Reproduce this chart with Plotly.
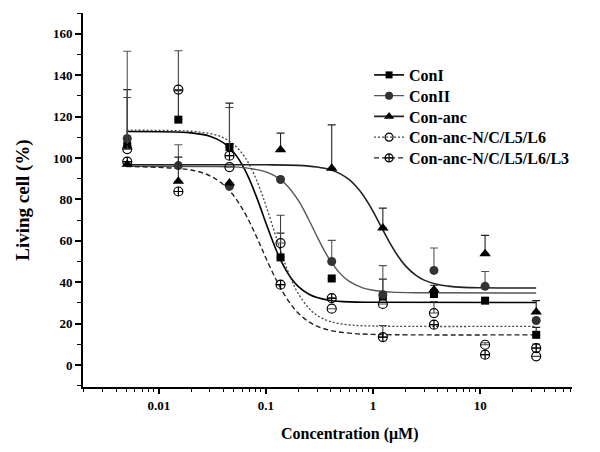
import plotly.graph_objects as go

# ---------------- data ----------------
conc = [0.00508, 0.01524, 0.0457, 0.137, 0.4115, 1.235, 3.704, 11.11, 33.33]

names = ["ConI", "ConII", "Con-anc", "Con-anc-N/C/L5/L6", "Con-anc-N/C/L5/L6/L3"]

con1 = [106.0, 118.5, 105.3, 52.0, 41.8, 33.1, 34.3, 31.1, 14.6]
con1_err = [27.0, 14.0, 21.2, 11.7, 0.0, 8.4, 0.0, 0.0, 3.6]

con2 = [109.4, 96.3, 86.3, 89.6, 50.0, 34.0, 45.7, 38.0, 21.5]
con2_err = [42.1, 10.1, 0.0, 0.0, 10.2, 14.0, 10.8, 7.2, 0.0]

anc = [97.0, 88.7, 87.9, 104.0, 95.0, 66.2, 36.4, 53.8, 25.6]
anc_err = [0.0, 11.7, 0.0, 8.0, 21.0, 9.6, 2.1, 8.8, 5.5]

l6 = [104.3, 133.0, 95.6, 58.9, 27.2, 29.5, 25.1, 9.8, 4.2]
l6_err = [24.9, 18.8, 0.0, 13.4, 0.0, 0.0, 5.6, 1.0, 0.0]

l3 = [98.2, 83.8, 101.1, 38.8, 32.3, 13.5, 19.5, 5.0, 8.2]
l3_err = [0.0, 0.0, 23.3, 0.0, 0.0, 5.6, 0.0, 0.0, 2.0]

# fitted curves, points
fit1_x = [0.005, 0.02, 0.03, 0.04, 0.05, 0.06, 0.07, 0.08, 0.09, 0.1, 0.12, 0.14,
          0.17, 0.2, 0.25, 0.3, 0.4, 0.6, 1.0, 33.3]
fit1_y = [112.8, 112.1, 110.5, 107.4, 102.8, 96.8, 89.8, 82.4, 75.3, 68.6, 57.7, 49.8,
          42.3, 38.0, 34.3, 32.6, 31.2, 30.5, 30.3, 30.2]

fit2_x = [0.005, 0.03, 0.05, 0.07, 0.1, 0.12, 0.15, 0.2, 0.25, 0.3, 0.35, 0.4, 0.5,
          0.6, 0.8, 1.0, 1.5, 3.0, 33.3]
fit2_y = [96.0, 95.9, 95.7, 95.0, 93.3, 91.5, 87.8, 79.6, 70.4, 62.1, 55.4, 50.3, 43.9,
          40.4, 37.3, 36.1, 35.2, 34.9, 34.8]

fit3_x = [0.005, 0.1, 0.2, 0.3, 0.4, 0.5, 0.6, 0.7, 0.8, 0.9, 1.0, 1.2, 1.4, 1.7, 2.0,
          2.5, 3.0, 4.0, 5.0, 7.0, 10.0, 33.3]
fit3_y = [96.7, 96.7, 96.4, 95.6, 94.3, 92.2, 89.5, 86.1, 82.4, 78.3, 74.2, 66.5, 60.0,
          52.8, 48.0, 43.4, 41.0, 38.9, 38.1, 37.5, 37.3, 37.2]

fit4_x = [0.005, 0.02, 0.03, 0.04, 0.05, 0.06, 0.07, 0.08, 0.09, 0.1, 0.12, 0.14, 0.17,
          0.2, 0.25, 0.3, 0.4, 0.6, 1.0, 33.3]
fit4_y = [113.4, 112.9, 111.8, 109.8, 106.6, 102.2, 96.8, 90.5, 83.9, 77.1, 64.4, 53.7,
          42.1, 34.6, 27.6, 24.0, 21.0, 19.4, 18.85, 18.7]

fit5_x = [0.005, 0.02, 0.03, 0.04, 0.05, 0.06, 0.07, 0.08, 0.09, 0.1, 0.12, 0.14, 0.17,
          0.2, 0.25, 0.3, 0.4, 0.6, 1.0, 33.3]
fit5_y = [95.9, 94.2, 91.4, 87.2, 81.8, 75.7, 69.3, 63.0, 57.1, 51.7, 42.9, 36.3, 29.5,
          25.1, 21.0, 18.8, 16.7, 15.4, 14.8, 14.6]

y_ticks = [0, 20, 40, 60, 80, 100, 120, 140, 160]
x_ticks = [0.01, 0.1, 1, 10]
x_ticktext = ["0.01", "0.1", "1", "10"]
x_minor = [m * 10.0 ** e for e in range(-3, 2) for m in range(2, 10)]

x_title = "Concentration (μM)"
y_title = "Living cell (%)"

# ---------------- styles ----------------
FONT = "Liberation Serif"
series = [
    (con1, con1_err, fit1_x, fit1_y, dict(symbol="square", color="black", size=8),
     dict(color="black", width=1.6, dash="solid"), "#222222"),
    (con2, con2_err, fit2_x, fit2_y, dict(symbol="circle", color="#333333", size=9),
     dict(color="#555555", width=1.4, dash="solid"), "#555555"),
    (anc, anc_err, fit3_x, fit3_y, dict(symbol="triangle-up", color="black", size=10),
     dict(color="#222222", width=1.6, dash="solid"), "#222222"),
    (l6, l6_err, fit4_x, fit4_y,
     dict(symbol="circle-open", color="black", size=9, line=dict(width=1.2)),
     dict(color="#444444", width=1.3, dash="2px,2px"), "#444444"),
    (l3, l3_err, fit5_x, fit5_y,
     dict(symbol="circle-cross-open", color="black", size=9, line=dict(width=1.2)),
     dict(color="#222222", width=1.4, dash="5px,3px"), "#444444"),
]

fig = go.Figure()

for (yv, err, fx, fy, mk, ln, ecol), nm in zip(series, names):
    fig.add_trace(go.Scatter(x=fx, y=fy, mode="lines", line=ln, showlegend=False,
                             hoverinfo="skip", line_shape="spline"))

for (yv, err, fx, fy, mk, ln, ecol), nm in zip(series, names):
    fig.add_trace(go.Scatter(
        x=conc, y=yv, mode="markers", marker=mk, showlegend=False, name=nm,
        error_y=dict(type="data", symmetric=False, array=err,
                     arrayminus=[0] * len(err), color=ecol, thickness=1.1, width=4)))

# one small legend per entry so the row spacing can match the original
legend_layout = {}
plot_top, plot_h = 13.0, 374.0
for i, ((yv, err, fx, fy, mk, ln, ecol), nm) in enumerate(zip(series, names)):
    key = "legend" if i == 0 else f"legend{i + 1}"
    lmk = dict(mk)
    lmk["size"] = mk["size"] - 1
    fig.add_trace(go.Scatter(x=[None], y=[None], mode="lines+markers", name=nm,
                             legend=key, marker=lmk,
                             line=dict(color=ln["color"], width=ln["width"],
                                       dash=ln["dash"])))
    row_center = 75.0 + i * 20.75
    legend_layout[key] = dict(
        x=0.585, y=1 - (row_center - plot_top) / plot_h,
        xanchor="left", yanchor="middle",
        font=dict(family=FONT, size=16, color="black", weight="bold"),
        bgcolor="rgba(0,0,0,0)", itemwidth=30)

# page body has an 8px default margin: figure is sized/offset to compensate
fig.update_layout(
    width=584, height=436,
    margin=dict(l=75, r=20, t=5, b=57),
    paper_bgcolor="white", plot_bgcolor="white",
    font=dict(family=FONT, size=13, color="black"),
    showlegend=True,
    xaxis=dict(
        type="log", range=[-2.707, 1.857],
        tickvals=x_ticks, ticktext=x_ticktext,
        ticks="outside", ticklen=5, tickwidth=1.5, tickcolor="black",
        minor=dict(ticks="outside", ticklen=3, tickwidth=1.2, tickcolor="black",
                   tickvals=x_minor, showgrid=False),
        showline=True, linecolor="black", linewidth=2, showgrid=False, zeroline=False,
        tickfont=dict(family=FONT, size=13, weight="bold"),
    ),
    yaxis=dict(
        range=[-10.6, 170], tickvals=y_ticks,
        ticks="outside", ticklen=6, tickwidth=1.5, tickcolor="black",
        minor=dict(ticks="outside", ticklen=4, tickwidth=1.2, tickcolor="black",
                   dtick=10, tick0=0, showgrid=False),
        showline=True, linecolor="black", linewidth=2, showgrid=False, zeroline=False,
        tickfont=dict(family=FONT, size=13, weight="bold"),
        title=dict(text=y_title, standoff=18,
                   font=dict(family=FONT, size=19, weight="bold")),
    ),
    annotations=[dict(text=x_title, xref="paper", yref="paper", x=0.546, y=-0.127,
                      xanchor="center", yanchor="middle", showarrow=False,
                      font=dict(family=FONT, size=16, weight="bold"))],
    **legend_layout,
)

fig.write_html("out.html")
